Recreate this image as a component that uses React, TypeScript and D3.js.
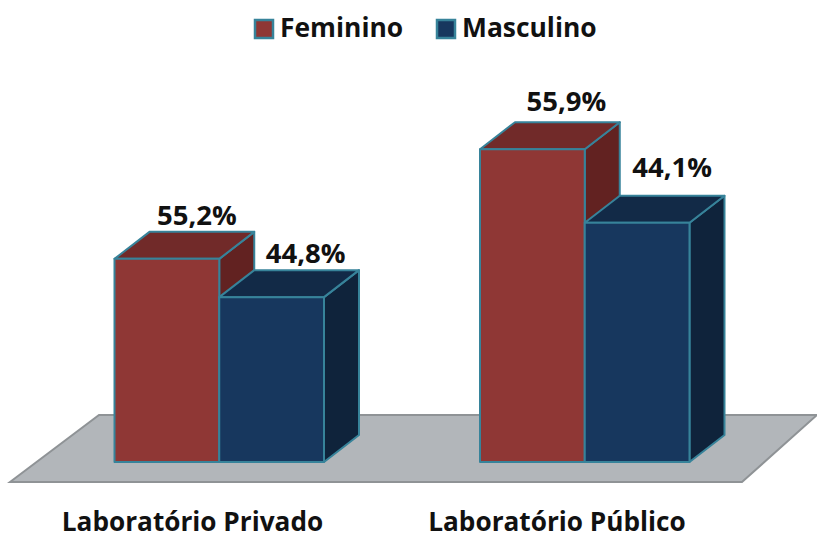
import React from "react";
import * as d3 from "d3";

const categories = ["Laboratório Privado", "Laboratório Público"];
const seriesNames = ["Feminino", "Masculino"];
const feminino = [55.2, 85.0];
const masculino = [44.8, 65.0];
const femininoLabels = ["55,2%", "55,9%"];
const masculinoLabels = ["44,8%", "44,1%"];

const W = 817, H = 534;
const baseY = 462;
const depth = { dx: 35, dy: -27 };
const FONT = "'Open Sans', sans-serif";
const EDGE = "#37839a";
const colors = [
  { front: "#8f3735", top: "#712a29", side: "#622221" },
  { front: "#17375e", top: "#122a47", side: "#0f233b" },
];
// hand placement of the value labels (series, then category): x shift from bar centre, gap above the top face
const labelShift = [[30, 34], [34, 35]];
const labelGap = [[7, 11], [7, 19]];

const y = d3.scaleLinear().domain([0, 100]).range([baseY, baseY - 368]);
const x0 = d3.scaleOrdinal<string, number>().domain(categories).range([114.5, 480]);
const x1 = d3.scaleBand().domain(seriesNames).range([0, 209.5]);

const poly = (pts: [number, number][]) => d3.line()(pts) + "Z";

function Bar({ x, w, v, c }: { x: number; w: number; v: number; c: typeof colors[0] }) {
  const t = y(v);
  const { dx, dy } = depth;
  return (
    <g stroke={EDGE} strokeWidth={2} strokeLinejoin="round">
      <path d={poly([[x + w, t], [x + w + dx, t + dy], [x + w + dx, baseY + dy], [x + w, baseY]])} fill={c.side} />
      <path d={poly([[x, t], [x + dx, t + dy], [x + w + dx, t + dy], [x + w, t]])} fill={c.top} />
      <path d={poly([[x, t], [x + w, t], [x + w, baseY], [x, baseY]])} fill={c.front} />
    </g>
  );
}

export default function App() {
  const series = [feminino, masculino];
  const labels = [femininoLabels, masculinoLabels];
  const legendX = [254, 436];
  return (
    <svg width={W} height={H} viewBox={`0 0 ${W} ${H}`} style={{ position: "absolute", left: 0, top: 0, background: "#fff" }} fontFamily={FONT}>
      <path d={poly([[10, 482], [99, 415], [817, 415], [742, 482]])} fill="#b2b6ba" stroke="#8f9396" strokeWidth={2} />
      {seriesNames.map((s, i) => (
        <g key={s}>
          <rect x={legendX[i] + 1} y={20} width={18} height={18} fill={colors[i].front} stroke={EDGE} strokeWidth={2.5} />
          <text x={legendX[i] + 26} y={37} fontSize={26.4} fontWeight={700} fill="#111">{s}</text>
        </g>
      ))}
      {categories.map((cat, ci) => (
        <g key={cat}>
          {[0, 1].map((si) => (
            <Bar key={si} x={x0(cat) + x1(seriesNames[si])!} w={x1.bandwidth()} v={series[si][ci]} c={colors[si]} />
          ))}
          {[0, 1].map((si) => (
            <text key={si} x={x0(cat) + x1(seriesNames[si])! + x1.bandwidth() / 2 + labelShift[si][ci]} y={y(series[si][ci]) + depth.dy - labelGap[si][ci]} textAnchor="middle" fontSize={27.5} fontWeight={700} fill="#111">
              {labels[si][ci]}
            </text>
          ))}
          <text x={ci === 0 ? 192.5 : 557} y={531} textAnchor="middle" fontSize={26.2} fontWeight={700} fill="#111">{cat}</text>
        </g>
      ))}
    </svg>
  );
}
